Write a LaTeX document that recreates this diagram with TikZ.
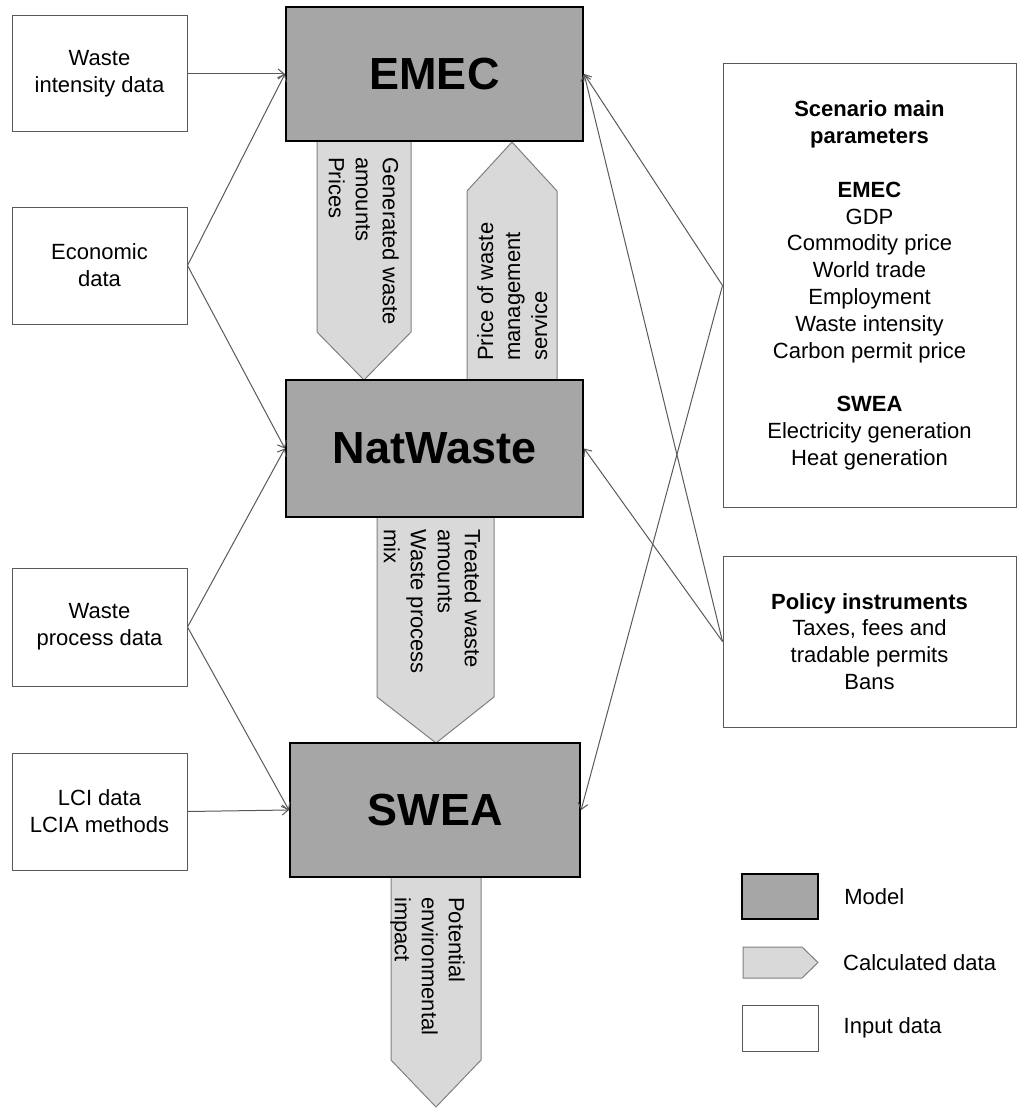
\documentclass[tikz,border=0pt]{standalone}
\usepackage{fontspec}
\setmainfont{Liberation Sans}
\usetikzlibrary{arrows.meta,positioning}
\definecolor{modelgray}{HTML}{A6A6A6}
\definecolor{calcgray}{HTML}{D9D9D9}
\definecolor{calcline}{HTML}{808080}
\definecolor{boxline}{HTML}{595959}
\definecolor{linkline}{HTML}{595959}

\begin{document}
\begin{tikzpicture}[x=1pt,y=-1pt,
  model/.style={draw=black,line width=2.2pt,fill=modelgray,minimum width=297pt,minimum height=134pt,inner sep=0pt,font=\fontsize{45}{54}\selectfont\bfseries},
  inputbox/.style={draw=boxline,line width=1pt,fill=white,minimum width=175pt,minimum height=117pt,align=center,font=\fontsize{22}{26.8}\selectfont},
  calcdata/.style={draw=calcline,line width=1pt,fill=calcgray},
  calctext/.style={inner sep=0pt,align=left,font=\fontsize{22}{27}\selectfont},
  link/.style={draw=linkline,line width=1pt,-{Straight Barb[length=6pt,width=10pt]}},
  legtext/.style={inner sep=0pt,font=\fontsize{22}{26.8}\selectfont}]
\useasboundingbox (0,0) rectangle (1024,1118);

% calculated data
\draw[calcdata] (317,141) -- (411,141) -- (411,332) -- (364,380) -- (317,332) -- cycle;
\draw[calcdata] (467,380) -- (467,191) -- (512,142) -- (557,191) -- (557,380) -- cycle;
\draw[calcdata] (377,517) -- (494,517) -- (494,697) -- (436,743) -- (377,697) -- cycle;
\draw[calcdata] (391,877) -- (481,877) -- (481,1060) -- (436,1107) -- (391,1060) -- cycle;
\node[calctext,rotate=-90,anchor=north west] (gentext) at (399,157) {Generated waste\\amounts\\Prices};
\node[calctext,rotate=90,anchor=north west] (pricetext) at (477,361) {Price of waste\\management\\service};
\node[calctext,rotate=-90,anchor=north west] (treattext) at (481,529) {Treated waste\\amounts\\Waste process\\mix};
\node[calctext,rotate=-90,anchor=north west] (pottext) at (465,897) {Potential\\environmental\\impact};

% models
\node[model] at (434.5,74) (emec) {EMEC};
\node[model,minimum height=137pt] at (434.5,448.5) (natwaste) {NatWaste};
\node[model,minimum width=290pt] at (435,810) (swea) {SWEA};

% input data
\node[inputbox,minimum height=116pt] at (99.5,74) (wid) {Waste\\intensity data};
\node[inputbox] at (99.5,265.5) (eco) {Economic\\data};
\node[inputbox,minimum height=118pt] at (99.5,627) (wpd) {Waste\\process data};
\node[inputbox] at (99.5,811.5) (lci) {LCI data\\LCIA methods};
\node[inputbox,minimum width=293pt,minimum height=443pt] at (869.5,285.5) (scen)
  {\textbf{Scenario main}\\\textbf{parameters}\\[26.8pt]\textbf{EMEC}\\GDP\\Commodity price\\World trade\\Employment\\Waste intensity\\Carbon permit price\\[26.8pt]\textbf{SWEA}\\Electricity generation\\Heat generation};
\node[inputbox,minimum width=293pt,minimum height=171pt] at (869.5,641.5) (pol)
  {\textbf{Policy instruments}\\Taxes, fees and\\tradable permits\\Bans};

% connectors
\draw[link] (wid.east) -- (emec.west);
\draw[link] (eco.east) -- (emec.west);
\draw[link] (eco.east) -- (natwaste.west);
\draw[link] (wpd.east) -- (natwaste.west);
\draw[link] (wpd.east) -- (swea.west);
\draw[link] (lci.east) -- (swea.west);
\draw[link] (scen.west) -- (emec.east);
\draw[link] (scen.west) -- (swea.east);
\draw[link] (pol.west) -- (emec.east);
\draw[link] (pol.west) -- (natwaste.east);

% legend
\node[model,minimum width=76pt,minimum height=45pt] at (780,896.5) (legmodel) {};
\node[legtext,right=25pt of legmodel] (legmodeltext) {Model};
\draw[calcdata] (743,947) -- (802,947) -- (818,962.5) -- (802,978) -- (743,978) -- cycle;
\coordinate (legcalc) at (818,962.5);
\node[legtext,right=25pt of legcalc] (legcalctext) {Calculated data};
\node[inputbox,minimum width=76pt,minimum height=46pt] at (780,1028) (leginput) {};
\node[legtext,right=25pt of leginput] (leginputtext) {Input data};
\end{tikzpicture}
\end{document}
